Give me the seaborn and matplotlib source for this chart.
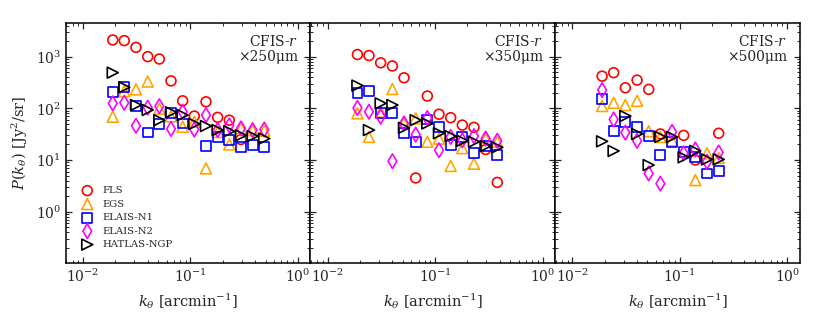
import numpy as np
import pandas as pd
import matplotlib
matplotlib.use("Agg")
import matplotlib.pyplot as plt
import seaborn as sns

sns.set_style("ticks")
plt.rcParams["font.family"] = ["DejaVu Serif"]
plt.rcParams["mathtext.fontset"] = "dejavuserif"

nan = np.nan

# k bins (arcmin^-1)
k_bins = [0.0189, 0.0242, 0.0311, 0.0400, 0.0513, 0.0659, 0.0846,
          0.1086, 0.1395, 0.1791, 0.2300, 0.2953, 0.3791, 0.4868]

series_names = ["FLS", "EGS", "ELAIS-N1", "ELAIS-N2", "HATLAS-NGP"]
panel_labels = ["CFIS-$r$\n×250μm", "CFIS-$r$\n×350μm", "CFIS-$r$\n×500μm"]

# 250 um
p250_FLS = [2100, 2040, 1510, 1000, 900, 340, 140, 71, 134, 67, 59, 25, nan, nan]
p250_EGS = [69, 215, 233, 330, 98, 70, 44, 55, 6.9, 35, 20, 41, 38, 37]
p250_N1 = [206, 260, 113, 34, 50, 80, 51, nan, 19, 28, 24, 17.6, 19.5, 17.6]
p250_N2 = [125, 128, 46, 103, 110, 40, 86, 39, 74, 38, 47, 41, 38, 39]
p250_HAT = [490, 255, 116, 93, 59, 84, 74, 50, 45.5, 38, 36, 30, 29, 26]

# 350 um
p350_FLS = [1100, 1050, 760, 660, 390, 4.5, 173, 77, 66, 47.5, 43, 16, 3.7]
p350_EGS = [80, 28, 86, 236, 52, 64, 22.6, 26, 7.7, 17, 8.5, 26, 22.6]
p350_N1 = [200, 218, 82, 80, 33, 22.6, 61, 44, 19.5, 28, 13.8, 18.7, 12.5]
p350_N2 = [102, 86, 69, 9.5, 51, 31, 65, 15.5, 28, 24, 29, 26, 23.6]
p350_HAT = [276, 38, 125, 116, 42, 59, 51, 33, 29, 23.6, 22.6, 18.7, 17.6]

# 500 um
p500_FLS = [420, 490, 250, 352, 233, 32, nan, 30, 10, nan, 33]
p500_EGS = [111, 128, 116, 140, 36, 28, 24, nan, 4.1, 13.5, 11]
p500_N1 = [149, 37, 55, 43, 29, 12.5, 22.6, 14.5, 11.6, 5.5, 6.2]
p500_N2 = [226, 61, 34, 23.6, 5.5, 3.5, 35, 13.5, 16, 9.3, 14]
p500_HAT = [23, 15, 71, 32, 8.0, 28, 28, 11.3, 15, 10.3, 10.3]

panels = [
    [p250_FLS, p250_EGS, p250_N1, p250_N2, p250_HAT],
    [p350_FLS, p350_EGS, p350_N1, p350_N2, p350_HAT],
    [p500_FLS, p500_EGS, p500_N1, p500_N2, p500_HAT],
]

colors = ["red", "orange", "blue", "magenta", "black"]
markers = ["o", "^", "s", "d", ">"]
sizes = [50, 62, 50, 55, 62]

fig, axes = plt.subplots(1, 3, figsize=(8.22, 3.16), dpi=100, sharey=True,
                         gridspec_kw=dict(wspace=0))
fig.subplots_adjust(left=0.080, right=0.973, top=0.926, bottom=0.167)

for ax, data, lab in zip(axes, panels, panel_labels):
    for name, vals, c, m, s in zip(series_names, data, colors, markers, sizes):
        df = pd.DataFrame({"k": k_bins[:len(vals)], "P": vals}).dropna()
        sns.scatterplot(data=df, x="k", y="P", ax=ax, marker=m, s=s,
                        facecolors="none", edgecolors=c, linewidths=1.2,
                        label=name, legend=False)
    ax.set_xscale("log")
    ax.set_yscale("log")
    ax.set_xlim(0.0069, 1.31)
    ax.set_ylim(0.101, 4400)
    ax.set_xlabel(r"$k_\theta$ [arcmin$^{-1}$]", fontsize=10.5)
    ax.set_ylabel("")
    ax.tick_params(which="both", direction="in", top=True, right=True,
                   labelsize=10)
    ax.tick_params(which="major", length=4, width=0.9)
    ax.tick_params(which="minor", length=2.2, width=0.7)
    for sp in ax.spines.values():
        sp.set_linewidth(1.1)
        sp.set_color("black")
    ax.text(0.95, 0.955, lab, transform=ax.transAxes, ha="right", va="top",
            fontsize=10, linespacing=1.05)

axes[0].set_ylabel(r"$P(k_\theta)$ [Jy$^2$/sr]", fontsize=10.5)
axes[0].legend(loc="lower left", frameon=False, fontsize=7.2,
               handlelength=1.5, handletextpad=0.8, labelspacing=0.45,
               borderaxespad=1.0)

fig.savefig("out.png", dpi=100)
